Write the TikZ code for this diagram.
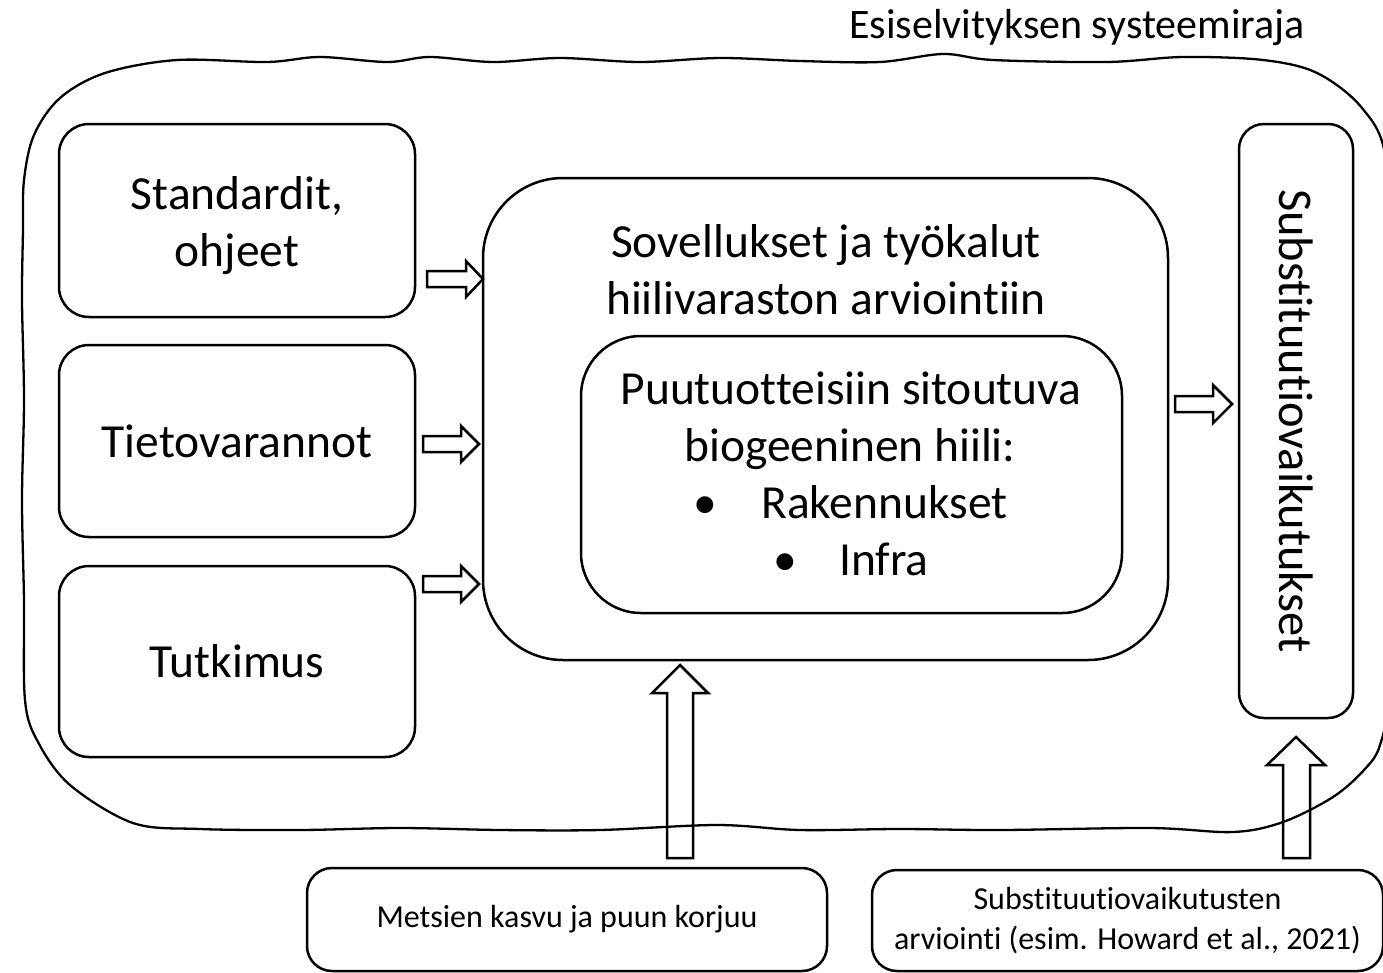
\documentclass[tikz,border=0pt]{standalone}
\usepackage{fontspec}
\setmainfont[RawFeature={-liga;-clig;-calt;-rlig;-dlig}]{Carlito}
\begin{document}
\begin{tikzpicture}[x=1pt,y=-1pt,line width=2.5pt,line join=round,
  box/.style={draw,rounded corners=30pt,inner sep=0pt,align=center},
  bigtxt/.style={font=\fontsize{47.5}{57}\selectfont},
  rottxt/.style={font=\fontsize{48.5}{57}\selectfont},
  smalltxt/.style={font=\fontsize{32}{40}\selectfont},
  toptxt/.style={font=\fontsize{42}{48}\selectfont},
  blk/.style={draw,line width=2.5pt,line join=miter}]
\useasboundingbox (0,0) rectangle (1383,972);
\begin{scope}
\clip (0,0) rectangle (1383,972);
% left boxes
\node[box,minimum width=356pt,minimum height=193pt] (std) at (237,220.5) {};
\node[bigtxt,align=center,inner sep=0pt] (stdt) at (237,226) {Standardit,\\ohjeet};
\node[box,bigtxt,minimum width=356pt,minimum height=192pt] (tieto) at (237,441) {Tietovarannot};
\node[box,bigtxt,minimum width=356pt,minimum height=191pt] (tutk) at (237,661.5) {Tutkimus};
% big box
\node[box,rounded corners=80pt,minimum width=685pt,minimum height=482pt] (sov) at (825.5,419) {};
\node[bigtxt,anchor=base,inner sep=0pt] (sov1) at (826,257) {Sovellukset ja työkalut};
\node[bigtxt,anchor=base,inner sep=0pt] (sov2) at (826,314) {hiilivaraston arviointiin};
% inner box
\node[box,rounded corners=60pt,minimum width=541pt,minimum height=277pt] (puu) at (851.5,474.5) {};
\node[bigtxt,anchor=base,inner sep=0pt] (puu1) at (851,404) {Puutuotteisiin sitoutuva};
\node[bigtxt,anchor=base,inner sep=0pt] (puu2) at (850,461) {biogeeninen hiili:};
\node[bigtxt,anchor=base,inner sep=0pt] (b1) at (705,518) {•};
\node[bigtxt,anchor=base west,inner sep=0pt] (rak) at (760,518) {Rakennukset};
\node[bigtxt,anchor=base,inner sep=0pt] (b2) at (785,575) {•};
\node[bigtxt,anchor=base west,inner sep=0pt] (inf) at (838,575) {Infra};
% right tall box
\node[box,rottxt,rounded corners=25pt,rotate=-90,minimum width=594pt,minimum height=114pt] (subst) at (1296,421) {Substituutiovaikutukset};
% bottom boxes
\node[box,smalltxt,rounded corners=25pt,minimum width=520pt,minimum height=103pt] (mets) at (567,919.5) {Metsien kasvu ja puun korjuu};
\node[box,smalltxt,rounded corners=25pt,minimum width=511pt,minimum height=101pt] (arv) at (1127.5,920.5) {Substituutiovaikutusten\\arviointi (esim. Howard et al., 2021)};
% top label
\node[toptxt,anchor=base,inner sep=0pt] (raja) at (1077,38) {Esiselvityksen systeemiraja};
% block arrows
\draw[blk] (427,271) -- (466,271) -- (466,261) -- (483,279) -- (466,297) -- (466,287) -- (427,287) -- cycle;
\draw[blk] (423,436) -- (461,436) -- (461,426) -- (479,444) -- (461,462) -- (461,452) -- (423,452) -- cycle;
\draw[blk] (423,576) -- (461,576) -- (461,566) -- (479,584) -- (461,602) -- (461,592) -- (423,592) -- cycle;
\draw[blk] (1175,396) -- (1213,396) -- (1213,385) -- (1232,404) -- (1213,423) -- (1213,412) -- (1175,412) -- cycle;
\draw[blk] (667,858) -- (667,693) -- (652,693) -- (680,665) -- (708,693) -- (693,693) -- (693,858) -- cycle;
\draw[blk] (1283,858) -- (1283,765) -- (1267,765) -- (1296,737) -- (1325,765) -- (1310,765) -- (1310,858) -- cycle;
% wavy system boundary
\draw[line width=2.3pt] plot[smooth cycle,tension=0.55] coordinates {
 (24,400) (22,300) (23,230) (24,180) (34,135) (60,98) (105,73) (177,60) (267,62) (320,57) (387,62) (430,57) (493,62)
 (560,58) (640,62) (720,58) (800,61) (880,62) (943,54) (993,60) (1107,62) (1183,57) (1263,60) (1317,73) (1362,108)
 (1386,160) (1389,300) (1389,500) (1388,690) (1380,745) (1364,770) (1333,797) (1283,822) (1233,832) (1150,828) (1000,830)
 (900,829) (800,830) (717,825) (600,830) (500,830) (400,828) (300,830) (200,829) (133,823) (70,785) (38,742) (25,700)
 (24,600) (22,500)};
\end{scope}
\end{tikzpicture}
\end{document}
